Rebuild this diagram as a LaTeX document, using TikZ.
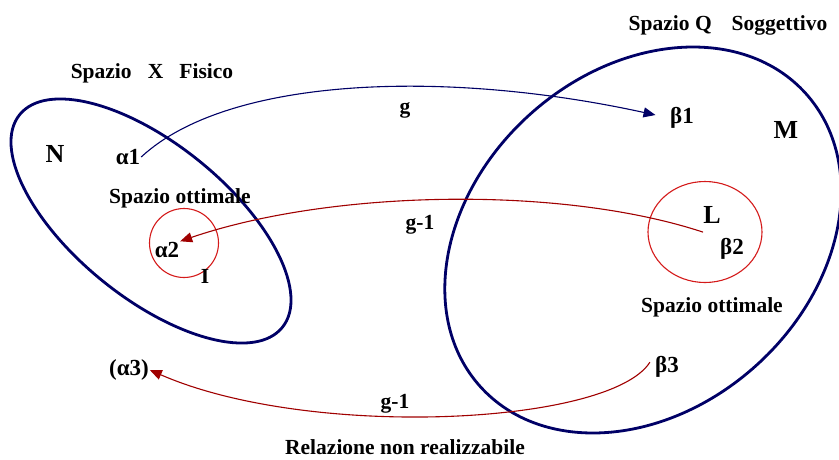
\documentclass[tikz,border=0pt]{standalone}
\usepackage{fontspec}
\setmainfont{Liberation Serif}
\usetikzlibrary{arrows.meta,shapes.geometric}
\definecolor{cSpc}{HTML}{000066}
\definecolor{cOpt}{HTML}{D41A1A}
\definecolor{cInv}{HTML}{A00000}
\tikzset{
  spc/.style ={draw=cSpc,ellipse,line width=2.8pt,inner sep=0pt},
  opt/.style ={draw=cOpt,ellipse,line width=1.1pt,inner sep=0pt},
  lbl/.style ={font=\fontsize{21.5}{24}\selectfont\bfseries,inner sep=1pt},
  big/.style ={font=\fontsize{26}{30}\selectfont\bfseries,inner sep=1pt},
  elt/.style ={font=\fontsize{23}{26}\selectfont\bfseries,inner sep=1pt},
  map/.style ={-{Triangle[length=12pt,width=10pt]},draw=cSpc,line width=1.1pt},
  inv/.style ={map,draw=cInv},
}

\begin{document}
\begin{tikzpicture}[x=1pt,y=-1pt,every node/.style={outer sep=0pt}]
\useasboundingbox (0,0) rectangle (839,459);

% the two spaces
\node[spc,minimum width=338,minimum height=154,rotate=-39] (X) at (151,221) {};
\node[spc,minimum width=438,minimum height=338,rotate=42]  (Q) at (643,240) {};
\node[lbl] (tX) at (152,73) {Spazio~~~X~~~Fisico};
\node[lbl] (tQ) at (728,25) {Spazio Q\hspace{20pt}Soggettivo};
\node[big] (N) at (55,154) {N};
\node[big] (M) at (786,130) {M};

% optimal regions
\node[opt,minimum width=69,minimum height=69] (I) at (184,243) {};
\node[opt,minimum width=114,minimum height=101] (L) at (705,232) {};
\node[lbl] (oI) at (180,198) {Spazio ottimale};
\node[lbl] (oL) at (712,307) {Spazio ottimale};
\node[lbl] (tI) at (205,276) {I};
\node[big] (tL) at (712,215) {L};

% elements
\node[elt] (a1) at (128,157) {α1};
\node[elt] (a2) at (167,250) {α2};
\node[elt] (a3) at (129,370) {(α3)};
\node[elt] (b1) at (682,118) {β1};
\node[elt] (b2) at (732,249) {β2};
\node[elt] (b3) at (667,367) {β3};

% mappings
\draw[map,shorten >=14pt] (a1.east) .. controls (230,75) and (450,70) .. (b1.west);
\draw[inv,shorten <=17pt] (b2.north west) .. controls (560,185) and (330,190) .. (a2.north east);
\draw[inv,shorten <=8pt] (b3.north west) .. controls (610,425) and (310,440) .. (a3.east);
\node[lbl] (g)  at (405,110) {g};
\node[lbl] (g1) at (420,225) {g-1};
\node[lbl] (g2) at (395,404) {g-1};
\node[lbl] (nr) at (405,447) {Relazione non realizzabile};
\end{tikzpicture}
\end{document}
